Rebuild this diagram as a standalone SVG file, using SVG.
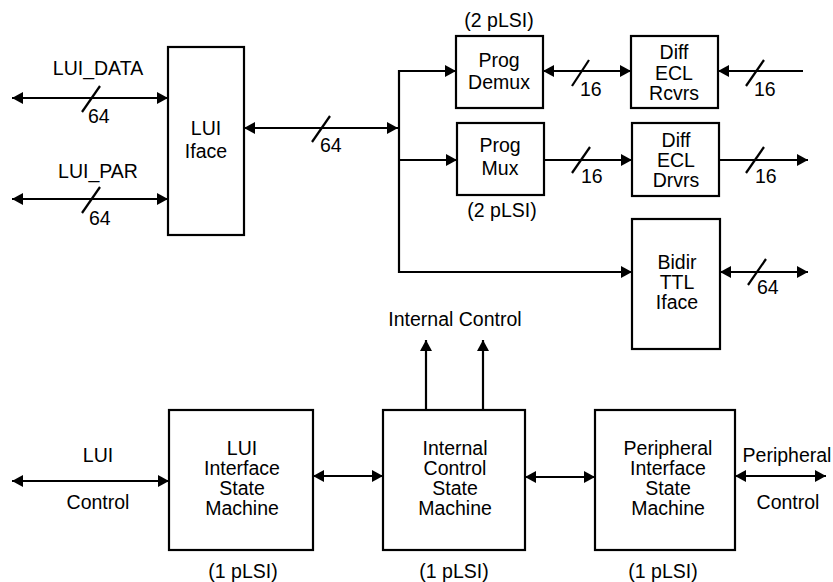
<svg xmlns="http://www.w3.org/2000/svg" width="833" height="582" viewBox="0 0 833 582">
<defs>
<marker id="arr" viewBox="0 0 11 12" refX="11" refY="6" markerWidth="11" markerHeight="12" markerUnits="userSpaceOnUse" orient="auto-start-reverse">
<path d="M0,0 L11,6 L0,12 z" fill="#000"/>
</marker>
<style>
.box{fill:#fff;stroke:#000;stroke-width:2.2}
.ln{fill:none;stroke:#000;stroke-width:2.2}
.bi{marker-start:url(#arr);marker-end:url(#arr)}
.end{marker-end:url(#arr)}
text{font-family:"Liberation Sans",Arial,sans-serif;font-size:19.5px;fill:#000}
.c{text-anchor:middle}
</style>
</defs>
<rect width="833" height="582" fill="#fff"/>

<g id="connectors">
<line class="ln bi" x1="12" y1="98" x2="168" y2="98"/>
<line class="ln" x1="82" y1="112" x2="100" y2="86"/>
<line class="ln bi" x1="12" y1="199" x2="168" y2="199"/>
<line class="ln" x1="82" y1="213" x2="100" y2="187"/>
<line class="ln bi" x1="244" y1="128" x2="398" y2="128"/>
<line class="ln" x1="312" y1="142" x2="330" y2="116"/>
<line class="ln" x1="399" y1="70" x2="399" y2="273"/>
<line class="ln end" x1="398" y1="71" x2="456" y2="71"/>
<line class="ln end" x1="398" y1="160" x2="457" y2="160"/>
<line class="ln end" x1="398" y1="272" x2="632" y2="272"/>
<line class="ln bi" x1="543" y1="71" x2="631" y2="71"/>
<line class="ln" x1="572" y1="86" x2="589" y2="60"/>
<line class="ln end" x1="803" y1="71" x2="718" y2="71"/>
<line class="ln" x1="746" y1="86" x2="764" y2="60"/>
<line class="ln end" x1="544" y1="160" x2="632" y2="160"/>
<line class="ln" x1="572" y1="173" x2="590" y2="147"/>
<line class="ln end" x1="719" y1="160" x2="808" y2="160"/>
<line class="ln" x1="746" y1="173" x2="764" y2="147"/>
<line class="ln bi" x1="720" y1="272" x2="808" y2="272"/>
<line class="ln" x1="748" y1="285" x2="766" y2="259"/>
<line class="ln bi" x1="12" y1="481" x2="169" y2="481"/>
<line class="ln bi" x1="313" y1="476" x2="383" y2="476"/>
<line class="ln end" x1="426" y1="410" x2="426" y2="340"/>
<line class="ln end" x1="483" y1="410" x2="483" y2="340"/>
<line class="ln bi" x1="525" y1="477" x2="595" y2="477"/>
<line class="ln bi" x1="735" y1="476" x2="826" y2="476"/>
</g>

<g id="labels">
<text class="c" x="98" y="75">LUI_DATA</text>
<text x="88" y="123">64</text>
<text class="c" x="98" y="178">LUI_PAR</text>
<text x="89" y="225">64</text>
<text x="320" y="152">64</text>
<text x="580" y="96">16</text>
<text x="754" y="96">16</text>
<text x="581" y="183">16</text>
<text x="755" y="183">16</text>
<text x="757" y="294">64</text>
<text class="c" x="455" y="326">Internal Control</text>
<text class="c" x="98" y="462">LUI</text>
<text class="c" x="98" y="509">Control</text>
<text class="c" x="787" y="462">Peripheral</text>
<text class="c" x="788" y="509">Control</text>
</g>

<g id="lui-iface">
<rect class="box" x="168" y="47" width="76" height="188"/>
<text class="c" x="206" y="135">LUI</text>
<text class="c" x="206" y="158">Iface</text>
</g>

<g id="prog-demux">
<rect class="box" x="456" y="36" width="87" height="72"/>
<text class="c" x="499" y="27">(2 pLSI)</text>
<text class="c" x="499" y="67">Prog</text>
<text class="c" x="499" y="89">Demux</text>
</g>

<g id="diff-ecl-rcvrs">
<rect class="box" x="631" y="36" width="87" height="72"/>
<text class="c" x="674" y="59">Diff</text>
<text class="c" x="674" y="80">ECL</text>
<text class="c" x="674" y="100">Rcvrs</text>
</g>

<g id="prog-mux">
<rect class="box" x="457" y="123" width="87" height="72"/>
<text class="c" x="500" y="152">Prog</text>
<text class="c" x="500" y="175">Mux</text>
<text class="c" x="502" y="217">(2 pLSI)</text>
</g>

<g id="diff-ecl-drvrs">
<rect class="box" x="632" y="123" width="87" height="73"/>
<text class="c" x="676" y="147">Diff</text>
<text class="c" x="676" y="167">ECL</text>
<text class="c" x="676" y="187">Drvrs</text>
</g>

<g id="bidir-ttl-iface">
<rect class="box" x="632" y="219" width="88" height="130"/>
<text class="c" x="677" y="269">Bidir</text>
<text class="c" x="677" y="289">TTL</text>
<text class="c" x="677" y="309">Iface</text>
</g>

<g id="lui-interface-sm">
<rect class="box" x="169" y="410" width="144" height="140"/>
<text class="c" x="242" y="455">LUI</text>
<text class="c" x="242" y="475">Interface</text>
<text class="c" x="242" y="495">State</text>
<text class="c" x="242" y="515">Machine</text>
<text class="c" x="243" y="578">(1 pLSI)</text>
</g>

<g id="internal-control-sm">
<rect class="box" x="383" y="410" width="142" height="140"/>
<text class="c" x="455" y="455">Internal</text>
<text class="c" x="455" y="475">Control</text>
<text class="c" x="455" y="495">State</text>
<text class="c" x="455" y="515">Machine</text>
<text class="c" x="454" y="578">(1 pLSI)</text>
</g>

<g id="peripheral-interface-sm">
<rect class="box" x="595" y="410" width="140" height="140"/>
<text class="c" x="668" y="455">Peripheral</text>
<text class="c" x="668" y="475">Interface</text>
<text class="c" x="668" y="495">State</text>
<text class="c" x="668" y="515">Machine</text>
<text class="c" x="663" y="578">(1 pLSI)</text>
</g>
</svg>
